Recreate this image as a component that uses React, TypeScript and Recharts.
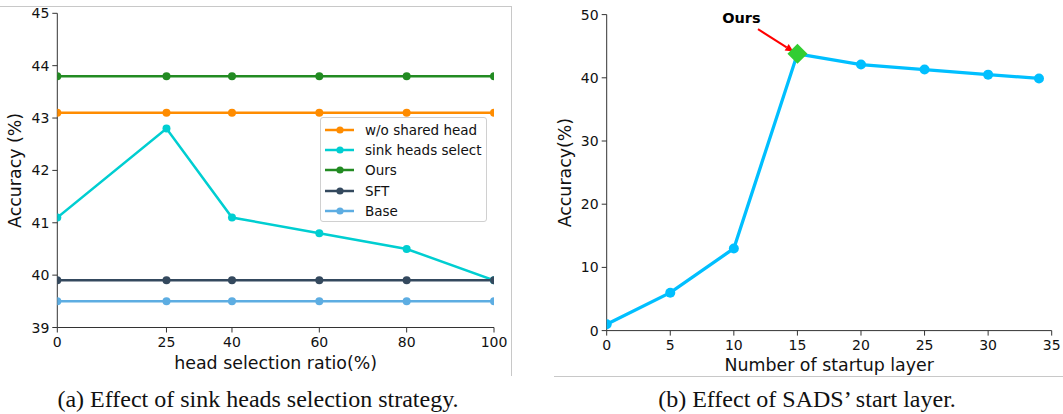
import React from 'react';
import { LineChart, Line, XAxis, YAxis, Legend } from 'recharts';

// ---------- Data: panel (a) ----------
const ratioTicks = [0, 25, 40, 60, 80, 100];
const woSharedHead = [43.1, 43.1, 43.1, 43.1, 43.1, 43.1];
const sinkHeadsSelect = [41.1, 42.8, 41.1, 40.8, 40.5, 39.9];
const oursA = [43.8, 43.8, 43.8, 43.8, 43.8, 43.8];
const sftA = [39.9, 39.9, 39.9, 39.9, 39.9, 39.9];
const baseA = [39.5, 39.5, 39.5, 39.5, 39.5, 39.5];
const accuracyTicksA = [39, 40, 41, 42, 43, 44, 45];

// ---------- Data: panel (b) ----------
const startLayers = [0, 5, 10, 15, 20, 25, 30, 34];
const startAccuracy = [1, 6, 13, 43.8, 42.1, 41.3, 40.5, 39.9];
const startLayerTicks = [0, 5, 10, 15, 20, 25, 30, 35];
const accuracyTicksB = [0, 10, 20, 30, 40, 50];
const oursLayer = 15;

const seriesA = [
  { key: 'woShared', name: 'w/o shared head', values: woSharedHead, color: '#ff8c00' },
  { key: 'sink', name: 'sink heads select', values: sinkHeadsSelect, color: '#00ced1' },
  { key: 'ours', name: 'Ours', values: oursA, color: '#228b22' },
  { key: 'sft', name: 'SFT', values: sftA, color: '#34495e' },
  { key: 'base', name: 'Base', values: baseA, color: '#5dade2' },
];

const tableA = ratioTicks.map((r, i) => {
  const row: Record<string, number> = { ratio: r };
  seriesA.forEach((s) => (row[s.key] = s.values[i]));
  return row;
});

const tableB = startLayers.map((l, i) => ({ layer: l, acc: startAccuracy[i] }));

const FONT = '"DejaVu Sans", sans-serif';
const AXIS = '#333';
const TICK_FS = 14;
const LABEL_STYLE = { fontSize: 17.4, fill: '#111', fontFamily: FONT };

const renderLegendA = () => (
  <div
    style={{
      width: 167,
      height: 105,
      boxSizing: 'border-box',
      border: '1px solid #d0d0d0',
      borderRadius: 3,
      background: 'rgba(255,255,255,0.85)',
      fontFamily: FONT,
      fontSize: 13.5,
      color: '#111',
      paddingTop: 1.5,
    }}
  >
    {seriesA.map((s) => (
      <div key={s.key} style={{ height: 20.25, display: 'flex', alignItems: 'center' }}>
        <svg width={44} height={20} style={{ flex: 'none' }}>
          <line x1={4} x2={33} y1={10} y2={10} stroke={s.color} strokeWidth={2.5} />
          <circle cx={19} cy={10} r={3.6} fill={s.color} />
        </svg>
        <span style={{ whiteSpace: 'nowrap', lineHeight: '20px' }}>{s.name}</span>
      </div>
    ))}
  </div>
);

const renderTick = (anchor: 'middle' | 'end') => (props: any) => {
  const { x, y, payload, index } = props;
  if (anchor === 'middle') {
    return (
      <text key={`t-${index}`} x={x} y={y + 10.5} textAnchor="middle" fontSize={TICK_FS} fill="#111" fontFamily={FONT}>
        {payload.value}
      </text>
    );
  }
  return (
    <text key={`t-${index}`} x={x} y={y + 5} textAnchor="end" fontSize={TICK_FS} fill="#111" fontFamily={FONT}>
      {payload.value}
    </text>
  );
};

const renderDotB = (props: any) => {
  const { cx, cy, payload, index } = props;
  if (cx == null || cy == null) return <g key={`d-${index}`} />;
  if (payload.layer === oursLayer) {
    const h = 10;
    const sx = -39.4, sy = -24.6, ex = -4, ey = -2.2;
    const len = Math.hypot(ex - sx, ey - sy);
    const dx = (ex - sx) / len, dy = (ey - sy) / len;
    const hl = 8, hw = 3.8;
    const bx = ex - hl * dx, by = ey - hl * dy;
    const px = -dy, py = dx;
    return (
      <g key={`d-${index}`}>
        <line x1={cx + sx} y1={cy + sy} x2={cx + bx} y2={cy + by} stroke="#ff0000" strokeWidth={2} />
        <polygon
          points={`${cx + ex},${cy + ey} ${cx + bx + hw * px},${cy + by + hw * py} ${cx + bx - hw * px},${cy + by - hw * py}`}
          fill="#ff0000"
        />
        <text x={cx - 56} y={cy - 31} textAnchor="middle" fontFamily={FONT} fontWeight="bold" fontSize={14.5} fill="#000">
          Ours
        </text>
        <polygon points={`${cx},${cy - h} ${cx + h},${cy} ${cx},${cy + h} ${cx - h},${cy}`} fill="#32cd32" />
      </g>
    );
  }
  return <circle key={`d-${index}`} cx={cx} cy={cy} r={5} fill="#00bfff" />;
};

const captionStyle: React.CSSProperties = {
  position: 'absolute',
  top: 387,
  textAlign: 'center',
  fontFamily: '"Liberation Serif", "Times New Roman", serif',
  fontSize: 24,
  lineHeight: '24px',
  color: '#111',
  whiteSpace: 'nowrap',
};

export default function App() {
  return (
    <div
      style={{
        position: 'absolute',
        left: 0,
        top: 0,
        width: 1063,
        height: 414,
        background: '#fff',
        overflow: 'hidden',
        fontFamily: FONT,
      }}
    >
      <div style={{ position: 'absolute', left: 0, top: 6, width: 511, height: 1, background: '#c8c8c8' }} />
      <div style={{ position: 'absolute', left: 511, top: 6, width: 1, height: 370, background: '#c8c8c8' }} />
      <div style={{ position: 'absolute', left: 554, top: 376, width: 509, height: 1, background: '#c8c8c8' }} />

      {/* Panel (a) */}
      <div style={{ position: 'absolute', left: 0, top: 0 }}>
        <LineChart width={510} height={390} data={tableA} margin={{ top: 13.3, right: 16, bottom: 0, left: 0 }}>
          <XAxis
            dataKey="ratio"
            type="number"
            domain={[0, 100]}
            ticks={ratioTicks}
            interval={0}
            allowDataOverflow
            height={62.5}
            tick={renderTick('middle')}
            tickSize={5}
            tickMargin={4}
            stroke={AXIS}
            tickLine={{ stroke: AXIS }}
            label={{ value: 'head selection ratio(%)', position: 'insideBottom', offset: 21, style: LABEL_STYLE }}
          />
          <XAxis xAxisId="top" orientation="top" dataKey="ratio" type="number" domain={[0, 100]} height={0} tick={false} tickLine={false} stroke={AXIS} />
          <YAxis
            type="number"
            domain={[39, 45]}
            ticks={accuracyTicksA}
            interval={0}
            width={57.3}
            tick={renderTick('end')}
            tickSize={5}
            tickMargin={3}
            stroke={AXIS}
            tickLine={{ stroke: AXIS }}
            label={{ value: 'Accuracy (%)', angle: -90, position: 'center', dx: -13.6, style: LABEL_STYLE }}
          />
          <YAxis yAxisId="right" orientation="right" type="number" domain={[39, 45]} width={0} tick={false} tickLine={false} stroke={AXIS} />
          {seriesA.map((s) => (
            <Line
              key={s.key}
              dataKey={s.key}
              name={s.name}
              stroke={s.color}
              strokeWidth={2.5}
              dot={{ r: 4, fill: s.color, stroke: s.color, strokeWidth: 0 }}
              activeDot={false}
              isAnimationActive={false}
            />
          ))}
          <Legend
            layout="horizontal"
            verticalAlign="middle"
            align="center"
            content={renderLegendA}
            wrapperStyle={{ position: 'absolute', left: 320, top: 117.3, width: 167, height: 105 }}
          />
        </LineChart>
      </div>

      {/* Panel (b) */}
      <div style={{ position: 'absolute', left: 530, top: 0 }}>
        <LineChart width={533} height={390} data={tableB} margin={{ top: 14.6, right: 11.3, bottom: 0, left: 0 }}>
          <XAxis
            dataKey="layer"
            type="number"
            domain={[0, 35]}
            ticks={startLayerTicks}
            interval={0}
            allowDataOverflow
            height={59.4}
            tick={renderTick('middle')}
            tickSize={5}
            tickMargin={4}
            stroke={AXIS}
            tickLine={{ stroke: AXIS }}
            label={{ value: 'Number of startup layer', position: 'insideBottom', offset: 19, style: LABEL_STYLE }}
          />
          <XAxis xAxisId="top" orientation="top" dataKey="layer" type="number" domain={[0, 35]} height={0} tick={false} tickLine={false} stroke={AXIS} />
          <YAxis
            type="number"
            domain={[0, 50]}
            ticks={accuracyTicksB}
            interval={0}
            width={76.7}
            tick={renderTick('end')}
            tickSize={5}
            tickMargin={3}
            stroke={AXIS}
            tickLine={{ stroke: AXIS }}
            label={{ value: 'Accuracy(%)', angle: -90, position: 'center', dx: -3.4, style: LABEL_STYLE }}
          />
          <YAxis yAxisId="right" orientation="right" type="number" domain={[0, 50]} width={0} tick={false} tickLine={false} stroke={AXIS} />
          <Line dataKey="acc" stroke="#00bfff" strokeWidth={3.3} dot={renderDotB} activeDot={false} isAnimationActive={false} />
        </LineChart>
      </div>

      <div style={{ ...captionStyle, left: 0, width: 516 }}>(a) Effect of sink heads selection strategy.</div>
      <div style={{ ...captionStyle, left: 607, width: 400 }}>(b) Effect of SADS’ start layer.</div>
    </div>
  );
}
